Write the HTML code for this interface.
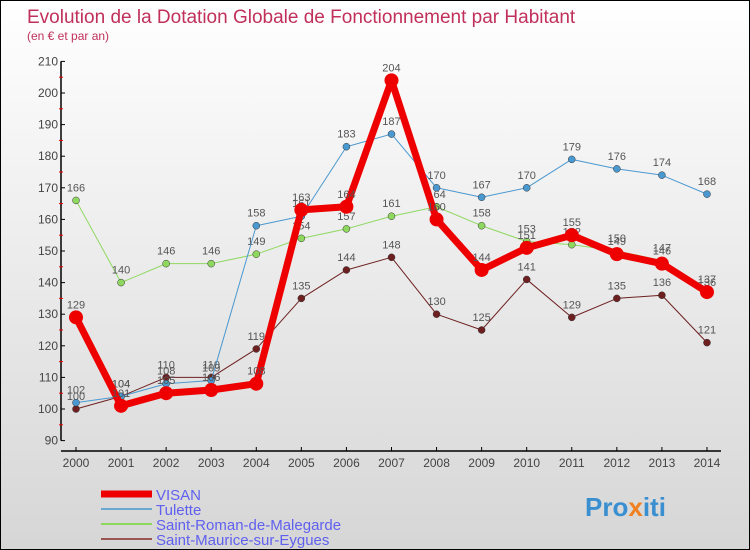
<!DOCTYPE html>
<html><head><meta charset="utf-8"><style>
body{margin:0;}
#wrap{width:748px;height:548px;border:1px solid #000;background:linear-gradient(#fff,#d6d6d6);position:relative;overflow:hidden;font-family:"Liberation Sans",sans-serif;}
svg{position:absolute;left:0;top:0;}
</style></head><body>
<div id="wrap">
<svg id="chart" width="750" height="550">
<text x="26" y="22" font-size="19" fill="#c0305a">Evolution de la Dotation Globale de Fonctionnement par Habitant</text>
<text x="26" y="39" font-size="12" fill="#c0305a">(en € et par an)</text>
<g id="axes"></g><g id="series"></g><g id="legend"></g>
<text x="584" y="515" font-size="26" font-weight="bold" fill="#3a8fd0">Pro<tspan fill="#f08020">x</tspan>iti</text>
</svg></div>
<script>
const years=[2000,2001,2002,2003,2004,2005,2006,2007,2008,2009,2010,2011,2012,2013,2014];
const yTicks=[90,100,110,120,130,140,150,160,170,180,190,200,210];
const visan=[129,101,105,106,108,163,164,204,160,144,151,155,149,146,137];
const tulette=[102,104,108,109,158,161,183,187,170,167,170,179,176,174,168];
const stRoman=[166,140,146,146,149,154,157,161,164,158,153,152,150,147,136];
const stMaurice=[100,104,110,110,119,135,144,148,130,125,141,129,135,136,121];
const NS="http://www.w3.org/2000/svg";
function X(i){return 75+i*45.07;}
function Y(v){return 408-(v-100)*3.16;}
function mk(tag,attrs,parent){const e=document.createElementNS(NS,tag);for(const k in attrs)e.setAttribute(k,attrs[k]);parent.appendChild(e);return e;}
const ax=document.getElementById('axes'),sg=document.getElementById('series'),lg=document.getElementById('legend');
let a=mk('line',{x1:60,y1:Y(210),x2:60,y2:Y(90),stroke:'#000','stroke-width':1.5},ax);


let b=mk('line',{x1:60,y1:450,x2:720,y2:450,stroke:'#000','stroke-width':1.5},ax);


yTicks.forEach((t,i)=>{
 mk('line',{x1:60,y1:Y(t),x2:64,y2:Y(t),stroke:'#000'},ax);
 if(i<yTicks.length-1)mk('line',{x1:58,y1:Y(t+5),x2:62,y2:Y(t+5),stroke:'#e00'},ax);
 const tx=mk('text',{x:57,y:Y(t)+4,'text-anchor':'end','font-size':12,fill:'#444'},ax);tx.textContent=t;
 
 
});
years.forEach((yr,i)=>{
 mk('line',{x1:X(i),y1:446,x2:X(i),y2:450,stroke:'#000'},ax);
 const tx=mk('text',{x:X(i),y:466,'text-anchor':'middle','font-size':12,fill:'#444'},ax);tx.textContent=yr;
 
 
});
const series=[
 {name:'saint-maurice',data:stMaurice,color:'#6e2020',w:1,r:3.5,label:'Saint-Maurice-sur-Eygues',lc:'#9a5555'},
 {name:'saint-roman',data:stRoman,color:'#8fd860',w:1,r:3.5,label:'Saint-Roman-de-Malegarde',lc:'#8fd860'},
 {name:'tulette',data:tulette,color:'#4a98d0',w:1,r:3.5,label:'Tulette',lc:'#6aa8d0'},
 {name:'visan',data:visan,color:'#ee0000',w:7,r:7,label:'VISAN',lc:'#ee0000'}];
series.forEach(s=>{
 const g=mk('g',{},sg);
 
 
 const pts=s.data.map((v,i)=>X(i)+','+Y(v)).join(' ');
 mk('polyline',{points:pts,fill:'none',stroke:s.color,'stroke-width':s.w,'stroke-linejoin':'round'},g);
 s.data.forEach((v,i)=>{
  const c=mk('circle',{cx:X(i),cy:Y(v),r:s.r,fill:s.color,stroke:s.w>1?'none':'#333','stroke-width':0.5},g);
  
  
  const t=mk('text',{x:X(i),y:Y(v)-9,'text-anchor':'middle','font-size':11,fill:'#555'},g);t.textContent=v;
  
  
 });
});
[...series].reverse().forEach((s,i)=>{
 const y=492+i*15;
 const g=mk('g',{},lg);
 
 
 mk('line',{x1:100,y1:y+1,x2:151,y2:y+1,stroke:s.lc,'stroke-width':i==0?7:2},g);
 const t=mk('text',{x:155,y:y+7,'font-size':15,fill:'#6060f0'},g);t.textContent=s.label;
});
</script>
</body></html>
